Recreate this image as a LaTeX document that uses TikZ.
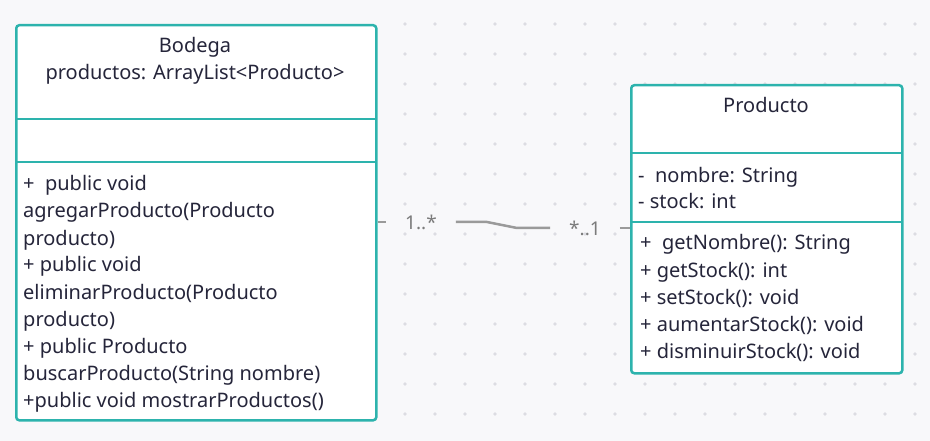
\documentclass[tikz,border=0pt]{standalone}
\usepackage{fontspec}
\setmainfont{Noto Sans}
\definecolor{classline}{HTML}{2DB3AD}
\definecolor{classtext}{HTML}{25253A}
\definecolor{assocline}{HTML}{9A9A9A}
\definecolor{canvas}{HTML}{F8F8FA}
\definecolor{griddot}{HTML}{DCDCE2}
\tikzset{
    classbox/.style={draw=classline, line width=2.5pt, fill=white, rounded corners=3pt, anchor=north west, inner sep=0pt},
    sepline/.style={draw=classline, line width=2.5pt},
    classtxt/.style={text=classtext, font=\fontsize{20}{27}\selectfont, inner sep=0pt, anchor=base west},
    mult/.style={text=assocline!80!black, font=\fontsize{19}{27}\selectfont, inner xsep=19pt, inner ysep=0pt},
    assoc/.style={draw=assocline, line width=2.5pt},
}

\begin{document}
\begin{tikzpicture}[x=1pt, y=-1pt]
    \fill[canvas] (0,0) rectangle (930,441);
    \foreach \gx in {405,435,...,915}
        \foreach \gy in {24,54,...,414}
            \fill[griddot] (\gx,\gy) circle (1.8pt);

    % association
    \node[mult] at (421,222) (m1) {1..*};
    \node[mult] at (585,228) (m2) {*..1};
    \coordinate (c1) at (487,222);
    \coordinate (c2) at (517,228);

    % Bodega
    \node[classbox, minimum width=360pt, minimum height=395pt] at (15,24) (bodega) {};
    \draw[sepline] (15,119) -- (375,119);
    \draw[sepline] (15,162) -- (375,162);
    \node[classtxt, anchor=base] at (195,53) (bname) {Bodega};
    \node[classtxt, anchor=base] at (195,80) (bprod) {productos: ArrayList<Producto>};
    \foreach \txt [count=\i] in {+\ \ public void, agregarProducto(Producto, producto), + public void, eliminarProducto(Producto, producto), + public Producto, buscarProducto(String nombre), +public void mostrarProductos()}
        \node[classtxt] at (23,{191+27*(\i-1)}) (bop\i) {\txt};

    % Producto
    \node[classbox, minimum width=271pt, minimum height=288pt] at (630,84) (producto) {};
    \draw[sepline] (630,153) -- (901,153);
    \draw[sepline] (630,222) -- (901,222);
    \node[classtxt, anchor=base] at (766,113) (pname) {Producto};
    \node[classtxt] at (638,183) (pat1) {-\ \ nombre: String};
    \node[classtxt] at (638,209) (pat2) {- stock: int};
    \foreach \txt [count=\i] in {+\ \ getNombre(): String, + getStock(): int, + setStock(): void, + aumentarStock(): void, + disminuirStock(): void}
        \node[classtxt] at (640,{250+27*(\i-1)}) (pop\i) {\txt};

    \draw[assoc] (bodega.east |- m1) -- (m1.west);
    \draw[assoc] (m1.east) -- (c1) -- (c2) -- (m2.west);
    \draw[assoc] (m2.east) -- (producto.west |- m2);

\end{tikzpicture}
\end{document}
